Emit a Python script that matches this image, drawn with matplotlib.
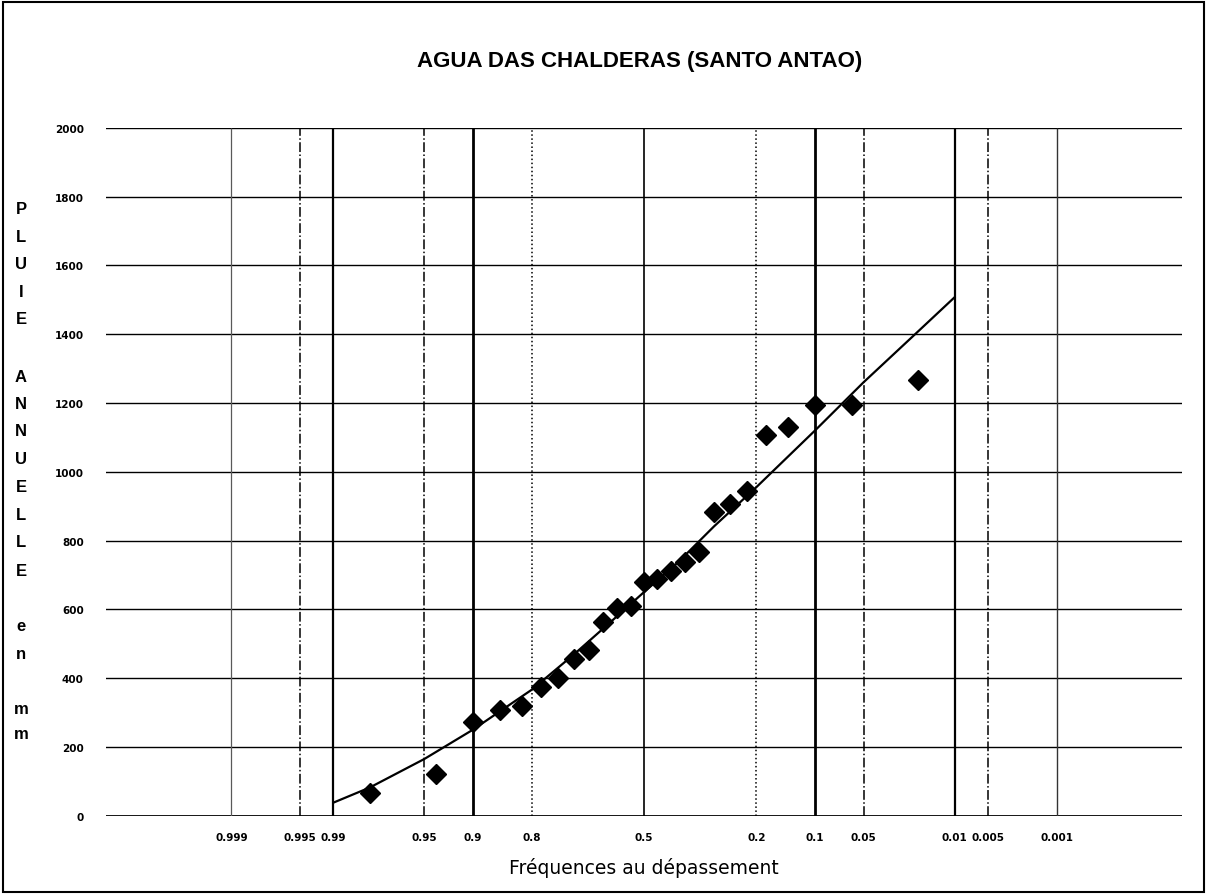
"""
Courbe de frequences au depassement - pluie annuelle, Agua das Chalderas
"""
import matplotlib
matplotlib.use("Agg")
import matplotlib.pyplot as plt
from statistics import NormalDist

# frequences au depassement (abscisses) et pluie annuelle (mm)
freqPoints = [0.98, 0.94, 0.90, 0.86, 0.82, 0.78, 0.74, 0.70, 0.66, 0.62,
              0.58, 0.54, 0.50, 0.46, 0.42, 0.38, 0.34, 0.30, 0.26, 0.22,
              0.18, 0.14, 0.10, 0.06, 0.02]
pluiePoints = [65, 121, 273, 308, 320, 375, 400, 455, 482, 562,
               603, 610, 678, 687, 712, 737, 766, 882, 906, 945,
               1107, 1131, 1195, 1195, 1267]

# loi ajustee
freqCurve = [0.99, 0.98, 0.95, 0.9, 0.8, 0.7, 0.6, 0.5, 0.4, 0.3, 0.2, 0.1, 0.05, 0.02, 0.01]
pluieCurve = [38, 82, 165, 250, 366, 469, 562, 650, 736, 841, 955, 1120, 1260, 1408, 1507]

# graduations de l'axe des frequences
freqTicks = [0.999, 0.995, 0.99, 0.95, 0.9, 0.8, 0.5, 0.2, 0.1, 0.05, 0.01, 0.005, 0.001]
tickLabels = ["0.999", "0.995", "0.99", "0.95", "0.9", "0.8", "0.5", "0.2", "0.1",
              "0.05", "0.01", "0.005", "0.001"]
yTicks = [0, 200, 400, 600, 800, 1000, 1200, 1400, 1600, 1800, 2000]

# style of each vertical line: (linestyle, linewidth, colour)
lineStyles = {
    0.999: ("-", 0.9, "0.35"),
    0.995: ("-.", 1.1, "black"),
    0.99: ("-", 1.6, "black"),
    0.95: ("-.", 1.1, "black"),
    0.9: ("-", 2.0, "black"),
    0.8: (":", 1.1, "black"),
    0.5: ("-", 1.2, "black"),
    0.2: (":", 1.1, "black"),
    0.1: ("-", 2.0, "black"),
    0.05: ("-.", 1.1, "black"),
    0.01: ("-", 1.6, "black"),
    0.005: ("-.", 1.1, "black"),
    0.001: ("-", 1.0, "0.2"),
}

nd = NormalDist()
def gauss(f):
    # abscisse gaussienne d'une frequence au depassement
    return nd.inv_cdf(1 - f)

W, H = 1208, 895
fig = plt.figure(figsize=(W / 100, H / 100), dpi=100)
ax = fig.add_axes([106 / W, (H - 816.7) / H, (1182 - 106) / W, (816.7 - 128.7) / H])

# grid
for y in yTicks:
    ax.axhline(y, color="black", lw=2.0 if y == 0 else 1.0, zorder=1)
for f in freqTicks:
    ls, lw, c = lineStyles[f]
    ax.vlines(gauss(f), 0, 2000, linestyles=ls, linewidth=lw, colors=c, zorder=1)

# courbe ajustee et points observes
ax.plot([gauss(f) for f in freqCurve], pluieCurve, color="black", lw=1.6, zorder=2)
ax.plot([gauss(f) for f in freqPoints], pluiePoints, "D", color="black",
        markersize=10.5, zorder=3)

ax.set_xlim(-4.03, 4.03)
ax.set_ylim(0, 2000)
for s in ax.spines.values():
    s.set_visible(False)
ax.set_xticks([gauss(f) for f in freqTicks])
ax.set_xticklabels(tickLabels)
ax.set_yticks(yTicks)
ax.tick_params(length=0, labelsize=7.5)
for lab in ax.get_xticklabels() + ax.get_yticklabels():
    lab.set_fontweight("bold")
ax.tick_params(axis="x", pad=12)
ax.tick_params(axis="y", pad=16)

fig.text(640 / W, 1 - 61 / H, "AGUA DAS CHALDERAS (SANTO ANTAO)", ha="center", va="center",
         fontsize=16, fontweight="bold", family="Liberation Sans")
fig.text(644 / W, 1 - 868 / H, "Fréquences au dépassement", ha="center", va="center",
         fontsize=13.5, family="DejaVu Sans")

# titre vertical, lettre par lettre
letters = ["P", "L", "U", "I", "E", "A", "N", "N", "U", "E", "L", "L", "E", "e", "n", "m", "m"]
letterY = [210, 237, 265, 293, 320, 377, 405, 432, 460, 488, 515, 543, 571, 627, 655, 710, 735]
for ch, yy in zip(letters, letterY):
    fig.text(21 / W, 1 - yy / H, ch, ha="center", va="center", fontsize=12,
             fontweight="bold", family="Liberation Sans")

# cadre
fig.patches.append(plt.Rectangle((3 / W, 2 / H), 1201 / W, 890 / H, transform=fig.transFigure,
                                 fill=False, edgecolor="black", lw=1.5))

fig.savefig("out.png", dpi=100)
